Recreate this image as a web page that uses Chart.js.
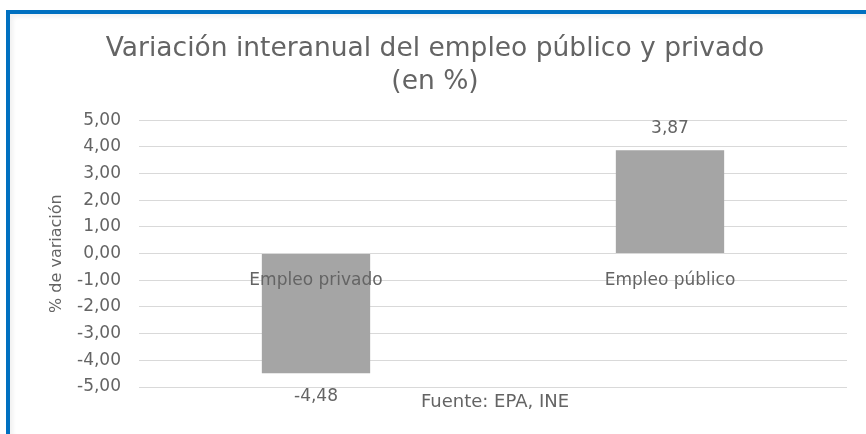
<!DOCTYPE html>
<html><head><meta charset="utf-8">
<script src="https://cdn.jsdelivr.net/npm/chart.js@4"></script>
<style>
html,body{margin:0;padding:0;background:#fff;}
#wrap{position:relative;width:866px;height:434px;overflow:hidden;}
#frame{position:absolute;left:6px;top:10px;right:0;bottom:0;border-top:4px solid #0070C0;border-left:4px solid #0070C0;pointer-events:none;box-shadow:inset 3px 3px 4px rgba(0,0,0,0.06);}
canvas{display:block;}
</style></head>
<body>
<div id="wrap"><canvas id="c" width="866" height="434"></canvas><div id="frame"></div></div>
<script>
const categories = ['Empleo privado', 'Empleo público'];
const values = [-4.48, 3.87];
const yTickValues = [-5, -4, -3, -2, -1, 0, 1, 2, 3, 4, 5];
const titleLines = ['Variación interanual del empleo público y privado', '(en %)'];
const yAxisTitle = '% de variación';
const sourceNote = 'Fuente: EPA, INE';

const FONT = '"DejaVu Sans", Verdana, sans-serif';
const TEXT = '#646464';
const fmt = v => v.toFixed(2).replace('.', ',');

const barLabels = {
  id: 'barLabels',
  afterDatasetsDraw(chart) {
    const ctx = chart.ctx;
    const meta = chart.getDatasetMeta(0);
    ctx.save();
    ctx.font = '17px ' + FONT;
    ctx.fillStyle = TEXT;
    ctx.textAlign = 'center';
    ctx.textBaseline = 'middle';
    meta.data.forEach((bar, i) => {
      const v = values[i];
      const y = v >= 0 ? bar.y - 22 : bar.y + 23;
      ctx.fillText(fmt(v), bar.x, y);
    });
    ctx.restore();
  }
};

const sourcePlugin = {
  id: 'sourceNote',
  afterDraw(chart) {
    const ctx = chart.ctx, a = chart.chartArea;
    ctx.save();
    ctx.font = '18px ' + FONT;
    ctx.fillStyle = TEXT;
    ctx.textAlign = 'center';
    ctx.textBaseline = 'middle';
    ctx.fillText(sourceNote, (a.left + a.right) / 2 + 2, a.bottom + 15);
    ctx.restore();
  }
};

new Chart(document.getElementById('c'), {
  type: 'bar',
  data: {
    labels: categories,
    datasets: [{
      data: values,
      backgroundColor: '#A5A5A5',
      borderWidth: 0,
      barPercentage: 0.306,
      categoryPercentage: 1
    }]
  },
  options: {
    responsive: false,
    animation: false,
    devicePixelRatio: 1,
    layout: { padding: { left: 23, right: 19, top: 33, bottom: 47 } },
    plugins: {
      legend: { display: false },
      tooltip: { enabled: false },
      title: {
        display: true,
        text: titleLines,
        color: TEXT,
        font: { family: FONT, size: 26.5, weight: 'normal', lineHeight: 1.23 },
        padding: { top: 0, bottom: 22 }
      }
    },
    scales: {
      y: {
        min: -5, max: 5,
        afterBuildTicks(scale) { scale.ticks = yTickValues.map(v => ({ value: v })); },
        afterFit(scale) { scale.width = 139 - 23; },
        grid: { color: '#D9D9D9', lineWidth: 1, drawTicks: false },
        border: { display: false },
        ticks: { color: TEXT, font: { family: FONT, size: 17 }, padding: 18, callback: v => fmt(v) },
        title: { display: true, text: yAxisTitle, color: TEXT, font: { family: FONT, size: 16 }, padding: { top: 24, bottom: 0 } }
      },
      x: {
        position: { y: 0 },
        grid: { display: false, drawTicks: false },
        border: { display: false },
        ticks: { color: TEXT, font: { family: FONT, size: 17 }, padding: 17, z: 1 }
      }
    }
  },
  plugins: [barLabels, sourcePlugin]
});
</script>
</body></html>
